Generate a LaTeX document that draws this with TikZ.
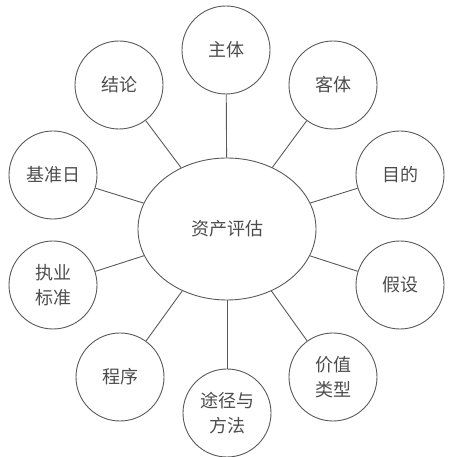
\documentclass[tikz,border=0pt]{standalone}
\usepackage{fontspec}
\newfontfamily\cjk{Noto Sans CJK SC}
\tikzset{
  item/.style={draw=black!65,line width=0.9pt,circle,minimum size=88pt,inner sep=0pt,
    align=center,text=black!70,font=\cjk\fontsize{18}{25}\selectfont},
  hub/.style={draw=black!65,line width=0.9pt,ellipse,minimum width=178pt,minimum height=142pt,
    text=black!70,font=\cjk\fontsize{18}{25}\selectfont},
  link/.style={draw=black!65,line width=0.9pt}
}
\usetikzlibrary{shapes.geometric}
\begin{document}
\begin{tikzpicture}[x=1pt,y=1pt]
		\useasboundingbox (0,0) rectangle (460,457);
		\node[hub] (zc) at (227,228) {资产评估};
		\node[item] (zt) at (226,407) {主体};
		\node[item] (kt) at (333,372) {客体};
		\node[item] (md) at (400,282) {目的};
		\node[item] (js) at (400,172) {假设};
		\node[item] (jz) at (333,80) {价值\\类型};
		\node[item] (tj) at (227,44) {途径与\\方法};
		\node[item] (cx) at (120,80) {程序};
		\node[item] (bz) at (53,172) {执业\\标准};
		\node[item] (jzr) at (53,282) {基准日};
		\node[item] (jl) at (119,372) {结论};
		\draw[link] (zc)--(zt);
		\draw[link] (zc)--(kt);
		\draw[link] (zc)--(md);
		\draw[link] (zc)--(js);
		\draw[link] (zc)--(jz);
		\draw[link] (zc)--(tj);
		\draw[link] (zc)--(cx);
		\draw[link] (zc)--(bz);
		\draw[link] (zc)--(jzr);
		\draw[link] (zc)--(jl);
		\end{tikzpicture}
\end{document}
